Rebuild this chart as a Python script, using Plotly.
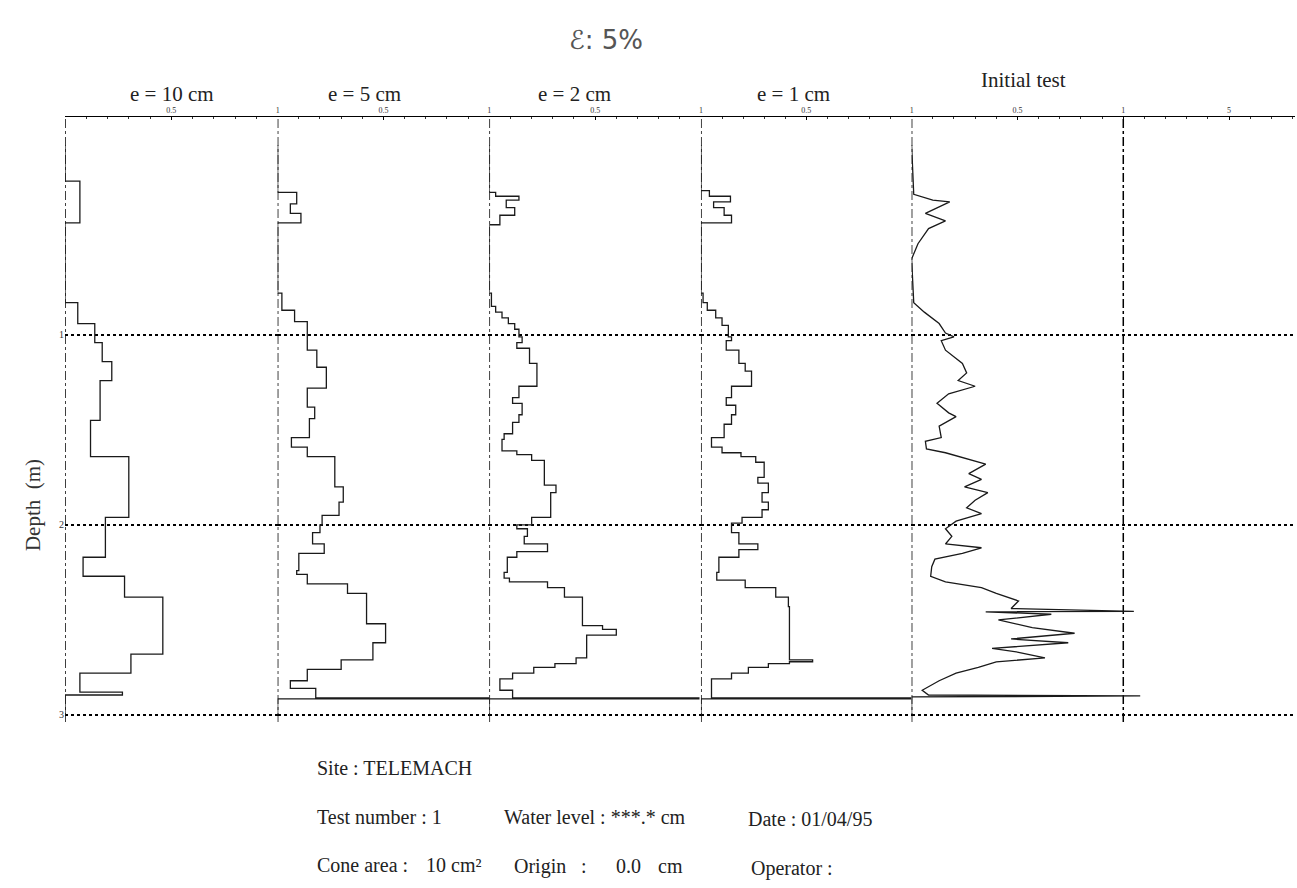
import plotly.graph_objects as go

# ---------------- data (depth in m, normalised resistance) ----------------
depth_e10 = [0.00, 0.19, 0.41, 0.83, 0.94, 1.04, 1.14, 1.24, 1.45, 1.64, 1.96, 2.17, 2.27, 2.38, 2.68, 2.78, 2.88, 2.895, 3.00]
qc_e10 = [0.00, 0.07, 0.00, 0.06, 0.14, 0.175, 0.22, 0.165, 0.12, 0.30, 0.19, 0.085, 0.28, 0.46, 0.31, 0.07, 0.27, 0.00, 0.00]

depth_e5 = [0.00, 0.25, 0.31, 0.36, 0.41, 0.78, 0.87, 0.93, 1.08, 1.17, 1.28, 1.38, 1.44, 1.54, 1.59, 1.64, 1.80, 1.88, 1.95, 2.00, 2.04, 2.10, 2.15, 2.24, 2.26, 2.31, 2.36, 2.52, 2.62, 2.71, 2.76, 2.82, 2.86, 2.91, 2.915, 3.00]
qc_e5 = [0.00, 0.09, 0.06, 0.11, 0.00, 0.02, 0.08, 0.14, 0.185, 0.23, 0.14, 0.175, 0.15, 0.065, 0.14, 0.27, 0.31, 0.29, 0.21, 0.20, 0.165, 0.22, 0.10, 0.09, 0.14, 0.33, 0.42, 0.51, 0.45, 0.30, 0.14, 0.06, 0.18, 1.00, 0.00, 0.00]

depth_e2 = [0.00, 0.25, 0.27, 0.29, 0.33, 0.37, 0.42, 0.78, 0.85, 0.88, 0.91, 0.94, 0.97, 1.01, 1.04, 1.07, 1.15, 1.27, 1.33, 1.36, 1.42, 1.46, 1.52, 1.55, 1.61, 1.63, 1.66, 1.79, 1.83, 1.96, 2.00, 2.02, 2.06, 2.10, 2.14, 2.17, 2.25, 2.28, 2.30, 2.33, 2.38, 2.53, 2.55, 2.58, 2.70, 2.73, 2.75, 2.78, 2.81, 2.87, 2.91, 2.915, 3.00]
qc_e2 = [0.00, 0.03, 0.14, 0.08, 0.12, 0.05, 0.00, 0.01, 0.03, 0.06, 0.09, 0.12, 0.14, 0.155, 0.13, 0.19, 0.225, 0.14, 0.11, 0.155, 0.14, 0.11, 0.07, 0.06, 0.13, 0.20, 0.26, 0.315, 0.29, 0.20, 0.13, 0.18, 0.165, 0.275, 0.13, 0.085, 0.07, 0.095, 0.275, 0.355, 0.44, 0.535, 0.60, 0.46, 0.41, 0.31, 0.21, 0.11, 0.05, 0.11, 0.99, 0.00, 0.00]

depth_e1 = [0.00, 0.24, 0.27, 0.30, 0.33, 0.37, 0.41, 0.78, 0.83, 0.87, 0.91, 0.95, 1.01, 1.03, 1.08, 1.15, 1.19, 1.27, 1.33, 1.37, 1.42, 1.47, 1.54, 1.59, 1.62, 1.64, 1.67, 1.75, 1.78, 1.83, 1.88, 1.92, 1.96, 1.99, 2.04, 2.10, 2.13, 2.17, 2.25, 2.29, 2.33, 2.38, 2.43, 2.71, 2.72, 2.73, 2.75, 2.78, 2.81, 2.91, 2.915, 3.00]
qc_e1 = [0.00, 0.04, 0.14, 0.06, 0.11, 0.145, 0.00, 0.01, 0.03, 0.07, 0.10, 0.13, 0.145, 0.12, 0.18, 0.21, 0.24, 0.145, 0.12, 0.165, 0.145, 0.11, 0.05, 0.10, 0.19, 0.26, 0.30, 0.27, 0.32, 0.29, 0.32, 0.29, 0.195, 0.145, 0.18, 0.27, 0.18, 0.085, 0.075, 0.21, 0.355, 0.415, 0.42, 0.53, 0.42, 0.32, 0.225, 0.145, 0.05, 0.995, 0.00, 0.00]

depth_init = [0.00, 0.26, 0.29, 0.30, 0.36, 0.40, 0.44, 0.52, 0.60, 0.83, 0.88, 0.94, 0.99, 1.01, 1.03, 1.08, 1.15, 1.20, 1.24, 1.27, 1.31, 1.36, 1.41, 1.43, 1.48, 1.54, 1.56, 1.60, 1.62, 1.65, 1.68, 1.73, 1.76, 1.80, 1.83, 1.87, 1.91, 1.94, 1.98, 2.02, 2.06, 2.10, 2.12, 2.15, 2.18, 2.22, 2.27, 2.30, 2.32, 2.33, 2.36, 2.40, 2.44, 2.455, 2.457, 2.47, 2.50, 2.54, 2.57, 2.60, 2.62, 2.65, 2.67, 2.70, 2.72, 2.75, 2.78, 2.82, 2.87, 2.895, 2.90, 2.905, 3.00]
qc_init = [0.00, 0.01, 0.10, 0.18, 0.065, 0.16, 0.08, 0.03, 0.00, 0.01, 0.06, 0.13, 0.16, 0.20, 0.14, 0.16, 0.24, 0.26, 0.22, 0.30, 0.175, 0.12, 0.175, 0.21, 0.13, 0.14, 0.065, 0.07, 0.16, 0.25, 0.35, 0.27, 0.33, 0.25, 0.36, 0.30, 0.26, 0.33, 0.21, 0.16, 0.19, 0.16, 0.33, 0.24, 0.11, 0.095, 0.09, 0.16, 0.285, 0.33, 0.40, 0.505, 0.47, 1.05, 0.35, 0.66, 0.41, 0.57, 0.77, 0.47, 0.74, 0.38, 0.505, 0.63, 0.40, 0.315, 0.21, 0.13, 0.05, 0.08, 1.08, 0.00, 0.00]

panel_titles = ["e = 10 cm", "e = 5 cm", "e = 2 cm", "e = 1 cm", "Initial test"]
depth_ticks = [1, 2, 3]
depth_ticktext = ["1", "2", "3"]

# ---------------- figure ----------------
W, H = 1297, 888
ML, MR, MT, MB = 65, 0, 117, 166
PW = W - ML - MR
PH = H - MT - MB

def px(xpix):
    return (xpix - ML) / PW

def py(ypix):
    return (H - MB - ypix) / PH

serif = "Liberation Serif"
ink = "#1a1a1a"

fig = go.Figure()
series = [
    (depth_e10, qc_e10, "x", "vh"),
    (depth_e5, qc_e5, "x2", "vh"),
    (depth_e2, qc_e2, "x3", "vh"),
    (depth_e1, qc_e1, "x4", "vh"),
    (depth_init, qc_init, "x5", "linear"),
]
for d, q, xa, shp in series:
    fig.add_trace(go.Scatter(x=q, y=d, mode="lines", xaxis=xa, yaxis="y",
                             line=dict(color=ink, width=1.3, shape=shp),
                             showlegend=False, hoverinfo="skip"))

lefts = [65, 278, 490, 702, 913]
edges = [px(v) for v in lefts] + [1.0]

def xax(i, rng, tickvals, ticktext):
    return dict(domain=[edges[i], edges[i + 1]], range=rng, side="top", anchor="y",
                showline=True, linecolor="black", linewidth=1.2, mirror=False,
                showgrid=False, zeroline=False, ticks="inside", ticklen=3,
                tickcolor="black", tickwidth=1, tickmode="array",
                tickvals=tickvals, ticktext=ticktext,
                tickfont=dict(family=serif, size=8, color="#333"),
                minor=dict(tickmode="linear", tick0=0, dtick=0.1, ticks="inside",
                           ticklen=2, tickcolor="#333", showgrid=False),
                fixedrange=True)

last_range = (W - 913) / 212.0
layout_axes = {}
for i in range(4):
    key = "xaxis" if i == 0 else f"xaxis{i+1}"
    layout_axes[key] = xax(i, [0, 1], [0.5, 1], ["0.5", "1"])
layout_axes["xaxis5"] = xax(4, [0, last_range], [0.5, 1, 1.5], ["0.5", "1", "5"])

fig.update_layout(
    width=W, height=H,
    margin=dict(l=ML, r=MR, t=MT, b=MB),
    paper_bgcolor="white", plot_bgcolor="white",
    yaxis=dict(domain=[0, 1], range=[3.037, -0.147], anchor="x",
               tickmode="array", tickvals=depth_ticks, ticktext=depth_ticktext,
               showgrid=True, gridcolor="black", griddash="dot", gridwidth=1.6,
               zeroline=False, showline=False, ticks="",
               tickfont=dict(family=serif, size=10, color="#333"), fixedrange=True),
    **layout_axes,
)

# vertical dash-dot reference lines
shapes = []
for xa in ["x", "x2", "x3", "x4", "x5"]:
    shapes.append(dict(type="line", xref=xa, yref="paper", x0=0, x1=0, y0=0, y1=1,
                       line=dict(color="black", width=1.5, dash="dashdot"), layer="below"))
shapes.append(dict(type="line", xref="x5", yref="paper", x0=1, x1=1, y0=0, y1=1,
                   line=dict(color="black", width=1.5, dash="dashdot"), layer="below"))
fig.update_layout(shapes=shapes)

ann = []
def text(s, xpix, ypix, size=20, anchor="center", font=serif, color="#222", angle=0):
    ann.append(dict(text=s, x=px(xpix), y=py(ypix), xref="paper", yref="paper",
                    xanchor=anchor, yanchor="middle", showarrow=False, textangle=angle,
                    font=dict(family=font, size=size, color=color)))

text("ℰ: 5%", 607, 40, size=26, font="DejaVu Sans", color="#555")
title_pos = [(172, 94), (365, 94), (575, 94), (795, 94), (1025, 80)]
for t, (xx, yy) in zip(panel_titles, title_pos):
    text(t, xx, yy, size=21)
text("Depth  (m)", 33, 505, size=21, angle=-90, color="#333")

text("Site : TELEMACH", 315, 768, anchor="left")
text("Test number : 1", 315, 817, anchor="left")
text("Water level : ***.* cm", 503, 817, anchor="left")
text("Date : 01/04/95", 747, 819, anchor="left")
text("Cone area :", 315, 865, anchor="left")
text("10 cm²", 425, 865, anchor="left")
text("Origin", 513, 866, anchor="left")
text(":", 580, 866, anchor="left")
text("0.0", 615, 866, anchor="left")
text("cm", 657, 866, anchor="left")
text("Operator :", 750, 868, anchor="left")
fig.update_layout(annotations=ann)

fig.write_html("out.html")
